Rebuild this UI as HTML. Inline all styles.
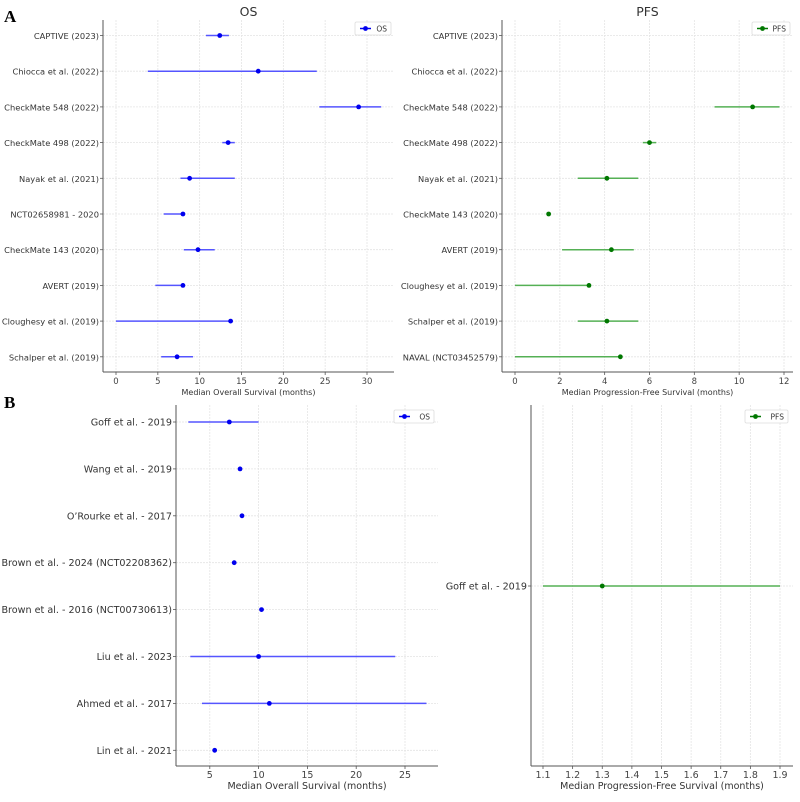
<!DOCTYPE html>
<html><head><meta charset="utf-8"><style>
body{margin:0;background:#fff;width:800px;height:797px;overflow:hidden}
svg{font-family:"DejaVu Sans","Liberation Sans",sans-serif}
</style></head><body>
<svg id="fig" width="800" height="797" viewBox="0 0 800 797" xmlns="http://www.w3.org/2000/svg">
<text x="4" y="22" font-family="Liberation Serif,serif" font-weight="bold" font-size="17" fill="#000">A</text>
<text x="4" y="408" font-family="Liberation Serif,serif" font-weight="bold" font-size="17" fill="#000">B</text>
</svg>
<script>
const aOsStudies=["CAPTIVE (2023)","Chiocca et al. (2022)","CheckMate 548 (2022)","CheckMate 498 (2022)","Nayak et al. (2021)","NCT02658981 - 2020","CheckMate 143 (2020)","AVERT (2019)","Cloughesy et al. (2019)","Schalper et al. (2019)"];
const aOsMedian=[12.4,17,29,13.4,8.8,8,9.8,8,13.7,7.3];
const aOsLow=[10.75,3.8,24.3,12.7,7.7,5.7,8.1,4.7,0,5.4];
const aOsHigh=[13.5,24,31.7,14.2,14.2,8,11.8,8,13.7,9.2];
const aOsTicks=[0,5,10,15,20,25,30];

const aPfsStudies=["CAPTIVE (2023)","Chiocca et al. (2022)","CheckMate 548 (2022)","CheckMate 498 (2022)","Nayak et al. (2021)","CheckMate 143 (2020)","AVERT (2019)","Cloughesy et al. (2019)","Schalper et al. (2019)","NAVAL (NCT03452579)"];
const aPfsMedian=[null,null,10.6,6,4.1,1.5,4.3,3.3,4.1,4.7];
const aPfsLow=[null,null,8.9,5.7,2.8,1.5,2.1,0,2.8,0];
const aPfsHigh=[null,null,11.8,6.3,5.5,1.5,5.3,3.3,5.5,4.7];
const aPfsTicks=[0,2,4,6,8,10,12];

const bOsStudies=["Goff et al. - 2019","Wang et al. - 2019","O\u2019Rourke et al. - 2017","Brown et al. -  2024 (NCT02208362)","Brown et al. - 2016 (NCT00730613)","Liu et al. - 2023","Ahmed et al. - 2017","Lin et al. - 2021"];
const bOsMedian=[7,8.1,8.3,7.5,10.3,10,11.1,5.5];
const bOsLow=[2.8,8.1,8.3,7.5,10.3,3,4.2,5.5];
const bOsHigh=[10,8.1,8.3,7.5,10.3,24,27.2,5.5];
const bOsTicks=[5,10,15,20,25];

const bPfsStudies=["Goff et al. - 2019"];
const bPfsMedian=[1.3];
const bPfsLow=[1.1];
const bPfsHigh=[1.9];
const bPfsTicks=[1.1,1.2,1.3,1.4,1.5,1.6,1.7,1.8,1.9];

const NS="http://www.w3.org/2000/svg";
const svg=document.getElementById('fig');
function mk(tag,attrs,parent){const e=document.createElementNS(NS,tag);for(const k in attrs)e.setAttribute(k,attrs[k]);(parent||svg).appendChild(e);return e;}

function panel(o){
  const g=mk('g',{});
  
  
  const sx=v=>o.x0+(v-o.d0)*(o.x1-o.x0)/(o.d1-o.d0);
  const sy=i=>o.yFirst+i*o.yStep;
  const tfs=o.tfs||8.5;
  o.ticks.forEach(t=>{
    const x=sx(t);
    const gl=mk('line',{x1:x,x2:x,y1:o.top,y2:o.bottom,stroke:'#e4e4e4','stroke-width':0.8,'stroke-dasharray':'2,1'},g);
    
    
    mk('line',{x1:x,x2:x,y1:o.bottom,y2:o.bottom+3,stroke:'#555','stroke-width':0.8},g);
    const tl=mk('text',{x:x,y:o.bottom+12,'font-size':tfs,'text-anchor':'middle',fill:'#444'},g);
    tl.textContent=o.tickFmt?o.tickFmt(t):t;
    
    
  });
  o.studies.forEach((s,i)=>{
    const y=sy(i);
    const hl=mk('line',{x1:o.axL,x2:o.axR,y1:y,y2:y,stroke:'#e4e4e4','stroke-width':0.8,'stroke-dasharray':'2,1'},g);
    
    
    mk('line',{x1:o.axL-3,x2:o.axL,y1:y,y2:y,stroke:'#555','stroke-width':0.8},g);
    const lb=mk('text',{x:o.axL-4,y:y+3.5,'font-size':o.fs||8.4,'text-anchor':'end',fill:'#333'},g);
    lb.textContent=s;
    
    
    const m=o.med[i];
    if(m!==null&&m!==undefined){
      const el=mk('line',{x1:sx(o.low[i]),x2:sx(o.high[i]),y1:y,y2:y,stroke:o.lc,'stroke-width':1.5},g);
      
      
      const p=mk('circle',{cx:sx(m),cy:y,r:2.4,fill:o.pc},g);
      
      
    }
  });
  mk('line',{x1:o.axL,x2:o.axL,y1:o.top,y2:o.bottom,stroke:'#555','stroke-width':1},g);
  mk('line',{x1:o.axL,x2:o.axR,y1:o.bottom,y2:o.bottom,stroke:'#555','stroke-width':1},g);
  const xt=mk('text',{x:(o.axL+o.axR)/2,y:o.bottom+23,'font-size':o.xfs||8.5,'text-anchor':'middle',fill:'#333'},g);
  xt.textContent=o.xlabel;
  
  
  if(o.title){
    const tt=mk('text',{x:(o.axL+o.axR)/2,y:16,'font-size':12.5,'text-anchor':'middle',fill:'#333'},g);
    tt.textContent=o.title;
    
    
  }
  const lg=mk('g',{},g);
  
  
  mk('rect',{x:o.lx,y:o.ly,width:o.lw,height:13,fill:'#fff',stroke:'#ddd','stroke-width':0.8,rx:1.5},lg);
  mk('line',{x1:o.lx+5,x2:o.lx+16,y1:o.ly+6.5,y2:o.ly+6.5,stroke:o.pc,'stroke-width':1.5},lg);
  mk('circle',{cx:o.lx+10.5,cy:o.ly+6.5,r:2.4,fill:o.pc},lg);
  const lt=mk('text',{x:o.lx+o.lw-4,y:o.ly+9.5,'font-size':7.5,'text-anchor':'end',fill:'#333'},lg);
  lt.textContent=o.legend;
  
  
}

panel({name:'panel-a-os',studies:aOsStudies,med:aOsMedian,low:aOsLow,high:aOsHigh,ticks:aOsTicks,d0:0,d1:30,x0:116,x1:367,axL:103,axR:394,top:20,bottom:372,yFirst:35.5,yStep:35.7,lc:'#5555ff',pc:'#0000ee',xlabel:'Median Overall Survival (months)',title:'OS',lx:355,ly:22,lw:36,legend:'OS',fs:8.3,tfs:8.5,xfs:8});
panel({name:'panel-a-pfs',studies:aPfsStudies,med:aPfsMedian,low:aPfsLow,high:aPfsHigh,ticks:aPfsTicks,d0:0,d1:12,x0:515,x1:784,axL:502,axR:793,top:20,bottom:372,yFirst:35.5,yStep:35.7,lc:'#55b055',pc:'#007700',xlabel:'Median Progression-Free Survival (months)',title:'PFS',lx:752,ly:22,lw:38,legend:'PFS',fs:8.3,tfs:8.5,xfs:8});
panel({name:'panel-b-os',studies:bOsStudies,med:bOsMedian,low:bOsLow,high:bOsHigh,ticks:bOsTicks,d0:0,d1:25,x0:161,x1:405,axL:176,axR:438,top:405,bottom:766,yFirst:422,yStep:46.9,lc:'#5555ff',pc:'#0000ee',xlabel:'Median Overall Survival (months)',fs:9.6,tfs:9.5,xfs:9.5,lx:394,ly:410,lw:40,legend:'OS'});
panel({name:'panel-b-pfs',studies:bPfsStudies,med:bPfsMedian,low:bPfsLow,high:bPfsHigh,ticks:bPfsTicks,d0:1.1,d1:1.9,x0:543,x1:780,axL:531,axR:793,top:405,bottom:766,yFirst:586,yStep:0,lc:'#55b055',pc:'#007700',xlabel:'Median Progression-Free Survival (months)',fs:9.6,tfs:9.5,xfs:9.5,lx:745,ly:410,lw:43,legend:'PFS',tickFmt:t=>t.toFixed(1)});
</script>
</body></html>
